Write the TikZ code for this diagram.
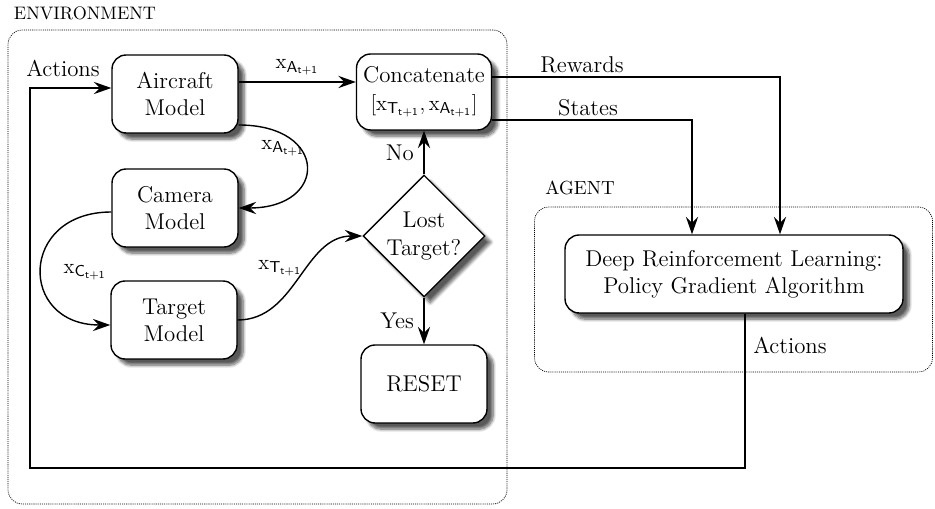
\documentclass[tikz,border=0pt]{standalone}
\usetikzlibrary{positioning, arrows.meta, calc, shapes.geometric, shadows.blur}

\newcommand{\xsub}[2]{$\mathrm{x}_{\mathsf{#1}_{\mathsf{#2}}}$}

\begin{document}
\begin{tikzpicture}[x=0.02cm, y=-0.02cm, font=\fontsize{13}{15.5}\selectfont,
 >={Stealth[length=10pt, width=7pt, inset=3.5pt]},
 block/.style={draw, thick, rounded corners=8pt, fill=white, align=center,
 minimum width=2.52cm, minimum height=1.56cm, inner sep=2pt,
 blur shadow={shadow xshift=3.5pt, shadow yshift=-3.5pt, shadow opacity=65, shadow blur steps=8}},
 decision/.style={draw, thick, diamond, fill=white, align=center, inner sep=0pt,
 minimum width=2.42cm, minimum height=2.36cm,
 blur shadow={shadow xshift=3.5pt, shadow yshift=-3.5pt, shadow opacity=65, shadow blur steps=8}},
 region/.style={draw, dash pattern=on 0.6pt off 0.6pt, rounded corners=8pt},
 flow/.style={->, thick}]
 \useasboundingbox (0,0) rectangle (935,509);

 % regions
 \node[region, minimum width=9.98cm, minimum height=9.48cm] (env) at (257.5,267) {};
 \node[region, minimum width=7.96cm, minimum height=3.3cm] (agent) at (733.5,289.5) {};
 \node[font=\fontsize{10.3}{12}\selectfont] (envlabel) at (85,13) {ENVIRONMENT};
 \node[font=\fontsize{10.8}{12}\selectfont] (agentlabel) at (580,188) {AGENT};

 % environment blocks
 \node[block] (aircraft) at (175,94) {Aircraft\\Model};
 \node[block] (camera) at (175,208) {Camera\\Model};
 \node[block] (target) at (174,320) {Target\\Model};
 \node[block, minimum width=2.7cm, minimum height=1.52cm] (concat) at (424,92)
 {Concatenate\\$[\mathrm{x}_{\mathsf{T}_{\mathsf{t+1}}},\mathrm{x}_{\mathsf{A}_{\mathsf{t+1}}}]$};
 \node[decision] (lost) at (424,236) {Lost\\Target?};
 \node[block] (reset) at (424,384) {RESET};

 % agent block
 \node[block, minimum width=6.76cm] (drl) at (734,274)
 {Deep Reinforcement Learning:\\Policy Gradient Algorithm};

 % inner flow
 \draw[flow] ($(aircraft.east)+(0,-12)$) -- ($(concat.west)+(0,-10)$)
 node[midway, above] {\xsub{A}{t+1}};
 \draw[flow] ($(aircraft.east)+(0,31)$) to[out=0, in=0, distance=1.8cm] (camera.east);
 \node (xa2) at (283,148) {\xsub{A}{t+1}};
 \draw[flow] ($(camera.west)+(0,4)$) to[out=180, in=180, distance=1.85cm] ($(target.west)+(0,5)$);
 \node (xc) at (85,272) {\xsub{C}{t+1}};
 \draw[flow] (target.east) to[out=0, in=180] (lost.west);
 \node (xt) at (280,268) {\xsub{T}{t+1}};
 \draw[flow] (lost.north) -- (concat.south) node[midway, left=2pt] {No};
 \draw[flow] (lost.south) -- (reset.north) node[midway, left=2pt] {Yes};

 % to and from the agent
 \coordinate (rewardx) at (780,0);
 \coordinate (statex) at (692,0);
 \draw[flow] ($(concat.east)+(0,-15)$) -| (drl.north -| rewardx);
 \node (rewards) at (582,65) {Rewards};
 \draw[flow] ($(concat.east)+(0,28)$) -| (drl.north -| statex);
 \node (states) at (588,108) {States};

 \coordinate (loopR) at (745,468);
 \coordinate (loopL) at (30,468);
 \draw[flow] (drl.south -| loopR) -- (loopR) -- (loopL) |- ($(aircraft.west)+(0,-6)$);
 \node (actionsL) at (63,68) {Actions};
 \node (actionsR) at (790,345) {Actions};
\end{tikzpicture}
\end{document}
